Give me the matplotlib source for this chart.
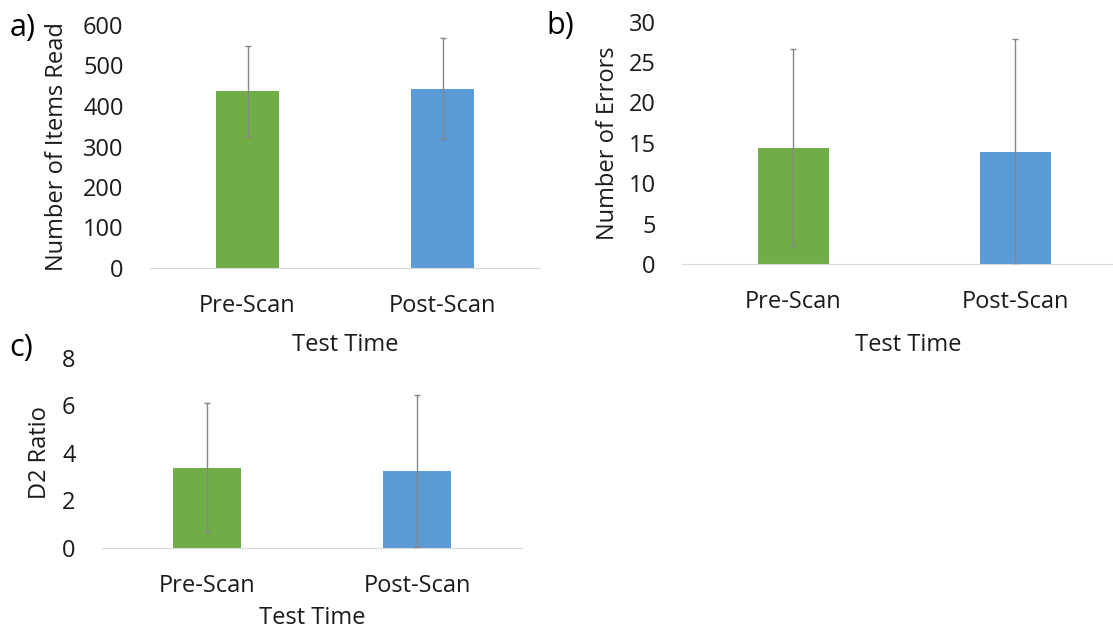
import numpy as np
import matplotlib
matplotlib.use('Agg')
import matplotlib.pyplot as plt

plt.rcParams['font.family'] = ['Open Sans', 'DejaVu Sans']

times = ['Pre-Scan', 'Post-Scan']
bar_colors = ['#70AD47', '#5B9BD5']

items_mean = [436, 443]
items_sd = [111, 124]
errors_mean = [14.4, 13.9]
errors_sd = [12.2, 14.0]
d2_mean = [3.37, 3.23]
d2_sd = [2.71, 3.2]

fig = plt.figure(figsize=(11.13, 6.28), dpi=100)


def panel(rect, means, sds, ylabel, yticks, letter, xlim, letter_xy, ylab_x, xlab_xy):
    ax = fig.add_axes(rect)
    idx = np.arange(len(times))
    ax.bar(idx, means, 0.32, color=bar_colors, zorder=2)
    ax.errorbar(idx, means, yerr=sds, fmt='none', ecolor='#858585', elinewidth=1,
                capsize=2.5, capthick=1, zorder=3)
    ax.set_xlim(*xlim)
    ax.set_ylim(yticks[0], yticks[-1])
    ax.set_yticks(yticks)
    ax.set_xticks(idx, times)
    for s in ['top', 'right', 'left']:
        ax.spines[s].set_visible(False)
    ax.spines['bottom'].set_color('#D9D9D9')
    ax.tick_params(length=0, labelsize=17, colors='#1a1a1a')
    ax.tick_params(axis='y', pad=19)
    ax.tick_params(axis='x', pad=19)
    ax.set_ylabel(ylabel, fontsize=17, color='#1a1a1a')
    ax.yaxis.set_label_coords(ylab_x, 0.5)
    ax.set_xlabel('Test Time', fontsize=17, color='#1a1a1a', va='center')
    ax.xaxis.set_label_coords(*xlab_xy)
    fig.text(letter_xy[0], letter_xy[1], letter, fontsize=22, ha='left', va='center')
    return ax


# a) items read
panel([150 / 1113, 1 - 268 / 628, 390 / 1113, 243 / 628], items_mean, items_sd,
      'Number of Items Read', [0, 100, 200, 300, 400, 500, 600], 'a)', (-0.5, 1.5),
      (10 / 1113, 1 - 28 / 628), -0.208, (0.5, -0.315))

# b) errors
panel([682 / 1113, 1 - 264 / 628, 431 / 1113, 242.3 / 628], errors_mean, errors_sd,
      'Number of Errors', [0, 5, 10, 15, 20, 25, 30], 'b)', (-0.5, 1.44),
      (546 / 1113, 1 - 26 / 628), -0.144, (0.525, -0.335))

# c) D2 ratio
panel([102 / 1113, 1 - 547.7 / 628, 420 / 1113, 190 / 628], d2_mean, d2_sd,
      'D2 Ratio', [0, 2, 4, 6, 8], 'c)', (-0.5, 1.5),
      (9 / 1113, 1 - 348 / 628), -0.119, (0.5, -0.37))

fig.savefig('out.png', dpi=100)
